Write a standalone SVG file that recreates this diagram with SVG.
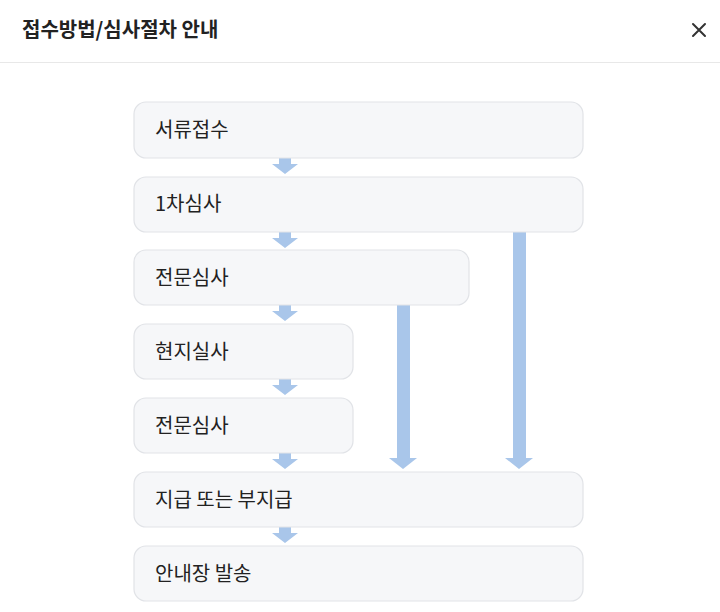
<svg xmlns="http://www.w3.org/2000/svg" width="720" height="612" viewBox="0 0 720 612">
<style>
.t{font-family:"Noto Sans CJK KR","Noto Sans",sans-serif;font-size:20px;fill:#222}
.b{fill:#f6f7f9;stroke:#e1e3e7;stroke-width:1.2}
.a{fill:#a9c6ea}
</style>
<rect width="720" height="612" fill="#fff"/>
<text x="22" y="37" class="t" style="font-weight:600">접수방법/심사절차 안내</text>
<g id="close" stroke="#333" stroke-width="2" stroke-linecap="round"><path d="M693 24L705 36M705 24L693 36"/></g>
<line x1="0" y1="62.5" x2="720" y2="62.5" stroke="#e8e8e8"/>
<g id="connectors" class="a">
<path d="M279 158h12v6h7l-13 10l-13-10h7z"/>
<path d="M279 232h12v6h7l-13 10l-13-10h7z"/>
<path d="M279 305h12v6h7l-13 10l-13-10h7z"/>
<path d="M279 379h12v6h7l-13 10l-13-10h7z"/>
<path d="M279 453h12v6h7l-13 10l-13-10h7z"/>
<path d="M279 527h12v6h7l-13 10l-13-10h7z"/>
<path d="M397 305h13v153h7l-14 11l-14-11h8z"/>
<path d="M513 232h13v226h7l-14 11l-14-11h8z"/>
</g>
<g id="n1"><rect class="b" x="134" y="102" width="449" height="56" rx="12"/><text class="t" x="155" y="137">서류접수</text></g>
<g id="n2"><rect class="b" x="134" y="177" width="449" height="55" rx="12"/><text class="t" x="155" y="211">1차심사</text></g>
<g id="n3"><rect class="b" x="134" y="250" width="335" height="55" rx="12"/><text class="t" x="155" y="285">전문심사</text></g>
<g id="n4"><rect class="b" x="134" y="324" width="219" height="55" rx="12"/><text class="t" x="155" y="359">현지실사</text></g>
<g id="n5"><rect class="b" x="134" y="398" width="219" height="55" rx="12"/><text class="t" x="155" y="433">전문심사</text></g>
<g id="n6"><rect class="b" x="134" y="472" width="449" height="55" rx="12"/><text class="t" x="155" y="507">지급 또는 부지급</text></g>
<g id="n7"><rect class="b" x="134" y="546" width="449" height="55" rx="12"/><text class="t" x="155" y="581">안내장 발송</text></g>
</svg>
